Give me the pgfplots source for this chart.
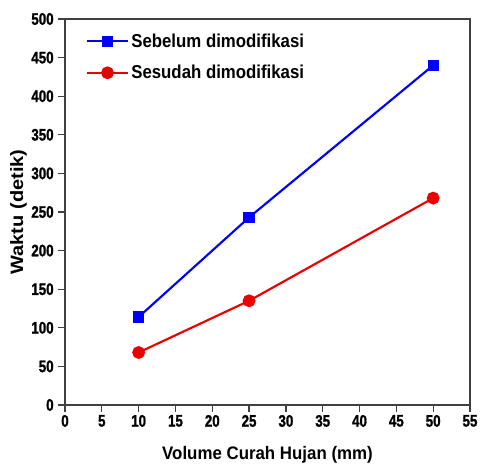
\documentclass[border=0pt]{standalone}
\usepackage{pgfplots}
\pgfplotsset{compat=1.18}
\usepackage{fontspec}
\setmainfont{Liberation Sans}
\newfontfamily\tickfont[FakeStretch=0.8,FakeBold=1.2]{Liberation Sans Bold}
\newfontfamily\legfont[FakeStretch=0.9]{Liberation Sans}
\newfontfamily\xlabfont[FakeStretch=0.93]{Liberation Sans}
\newfontfamily\ylabfont[FakeStretch=1.12]{Liberation Sans}
\begin{document}
\begin{tikzpicture}
\begin{axis}[
  name=ax,
  scale only axis,
  width=303.75pt, height=289.5pt,
  xmin=0, xmax=55, ymin=0, ymax=500,
  xtick={0,5,...,55}, ytick={0,50,...,500},
  xticklabels={0,5,10,15,20,25,30,35,40,45,50,55},
  yticklabels={0,50,100,150,200,250,300,350,400,450,500},
  axis line style={line width=1pt, black!75},
  tick style={line width=1pt, black!75},
  tick align=outside,
  xtick pos=bottom, ytick pos=left,
  major tick length=5pt,
  tick label style={font=\tickfont\fontsize{12.5}{14}\selectfont},
  xticklabel style={yshift=1pt},
  yticklabel style={xshift=0pt},
  xlabel={Volume Curah Hujan (mm)},
  ylabel={Waktu (detik)},
  xlabel style={font=\xlabfont\fontsize{13.6}{16}\selectfont\bfseries,
    at={(axis description cs:0.5,-0.13)}, anchor=center},
  ylabel style={font=\ylabfont\fontsize{13.4}{16}\selectfont\bfseries,
    at={(axis description cs:-0.115,0.5)}, anchor=center},
  legend style={draw=none, fill=none, at={(0.052,0.97)}, anchor=north west,
    font=\legfont\fontsize{14}{16}\selectfont\bfseries, row sep=8pt,
    inner sep=0pt},
  legend cell align=left,
  legend image code/.code={
    \draw[#1, line width=1.6pt] (0cm,0cm) -- (1.06cm,0cm);
    \draw[#1, only marks] plot coordinates {(0.53cm,0cm)};
  },
]
\addplot[blue, line width=1.6pt, mark=square*, mark size=3.4pt] coordinates {(10,114) (25,243) (50,440)};
\addlegendentry{Sebelum dimodifikasi}
\addplot[red!92!black, line width=1.6pt, mark=*, mark size=4pt] coordinates {(10,68) (25,135) (50,268)};
\addlegendentry{Sesudah dimodifikasi}
\end{axis}
\pgfresetboundingbox
\path ([xshift=-48.75pt,yshift=-46.5pt]ax.south west) rectangle ([xshift=7.5pt,yshift=14.25pt]ax.north east);
\end{tikzpicture}
\end{document}
